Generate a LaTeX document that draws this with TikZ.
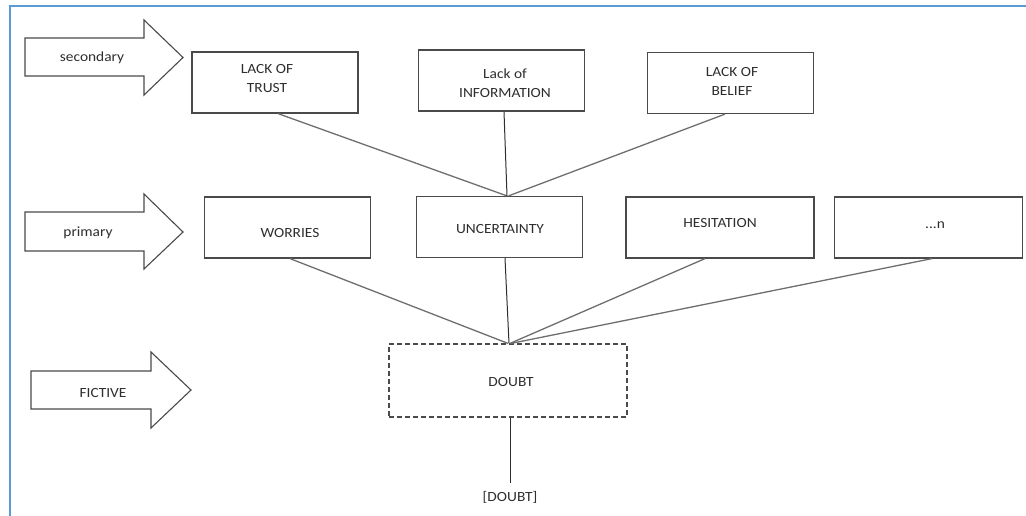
\documentclass[tikz,border=0pt]{standalone}
\usepackage{fontspec}
\setmainfont{Carlito}[FakeStretch=1.1]
\usetikzlibrary{calc}
\definecolor{frameblue}{HTML}{5B9BD5}
\definecolor{edge}{HTML}{4A4A4A}
\definecolor{link}{HTML}{6E6E6E}
\definecolor{ink}{HTML}{2E2E2E}
\begin{document}
\begin{tikzpicture}[x=1pt,y=-1pt,
  txt/.style={font=\fontsize{14}{17}\selectfont, text=ink, align=center, inner sep=0pt},
  box/.style={draw=edge, line width=1.2pt, fill=white, minimum height=61pt, inner sep=0pt},
  narrow/.style={box, minimum width=166pt},
  wide/.style={box, minimum width=188pt},
  doubtbox/.style={draw=edge, line width=1.2pt, dash pattern=on 5pt off 3pt, minimum width=238pt, minimum height=73pt, inner sep=0pt},
  arrowshape/.style={draw=edge, line width=1.1pt, fill=white, line join=miter},
  link/.style={draw=link, line width=1.3pt},
  stem/.style={draw=ink, line width=1.0pt}]
\useasboundingbox (0,0) rectangle (1026,515);
% frame (only top and left edges lie inside the page)
\draw[frameblue, line width=2pt] (9.5,520) -- (9.5,6) -- (1030,6);

% level arrows
\draw[arrowshape] (25,38) -- (144,38) -- (144,20) -- (183,57.5) -- (144,95) -- (144,76) -- (25,76) -- cycle;
\node[txt] (lsec) at (92,58) {secondary};
\draw[arrowshape] (25,212) -- (144,212) -- (144,194) -- (183,232) -- (144,269) -- (144,251) -- (25,251) -- cycle;
\node[txt] (lpri) at (88,233) {primary};
\draw[arrowshape] (31,371) -- (151,371) -- (151,352) -- (191,390) -- (151,428) -- (151,409) -- (31,409) -- cycle;
\node[txt] (lfic) at (103,393) {FICTIVE};

% secondary causes
\node[narrow] (trust) at (275,82.5) {};
\node[txt] at (267,79) {LACK OF\\[2pt]TRUST};
\node[narrow] (info) at (501.5,80.5) {};
\node[txt] at (505,83) {Lack of\\[2pt]INFORMATION};
\node[narrow] (belief) at (730.5,83) {};
\node[txt] at (732,81.5) {LACK OF\\[2pt]BELIEF};

% primary causes
\node[narrow] (worries) at (287.5,227.5) {};
\node[txt] at (290,233) {WORRIES};
\node[narrow] (unc) at (499.5,227) {};
\node[txt] at (500,229) {UNCERTAINTY};
\node[wide] (hes) at (720,227.5) {};
\node[txt] at (720,223) {HESITATION};
\node[wide] (more) at (928.5,227.5) {};
\node[txt] at (935,225) {...n};

% fictive level
\node[doubtbox] (doubt) at (508,380.5) {};
\node[txt] at (511,382) {DOUBT};
\node[txt] (dlabel) at (510,497) {[DOUBT]};

% connectors: secondary -> uncertainty
\coordinate (upin) at ([xshift=7.5pt]unc.north);
\draw[link] ([xshift=3pt]trust.south) -- (upin);
\draw[stem] ([xshift=2.5pt]info.south) -- (upin);
\draw[link] ([xshift=-5.5pt]belief.south) -- ([xshift=9pt]unc.north);

% connectors: primary -> doubt
\coordinate (dpin) at (doubt.north);
\draw[link] ([xshift=2.5pt]worries.south) -- (dpin);
\draw[stem] ([xshift=5.5pt]unc.south) -- ([xshift=1pt]dpin);
\draw[link] ([xshift=-15pt]hes.south) -- ([xshift=2pt]dpin);
\draw[link] ([xshift=3.5pt]more.south) -- ([xshift=3pt]dpin);

% doubt -> label
\draw[stem] ([xshift=2pt]doubt.south) -- ([yshift=8pt]dlabel.north -| {$(doubt.south)+(2,0)$});
\end{tikzpicture}
\end{document}
